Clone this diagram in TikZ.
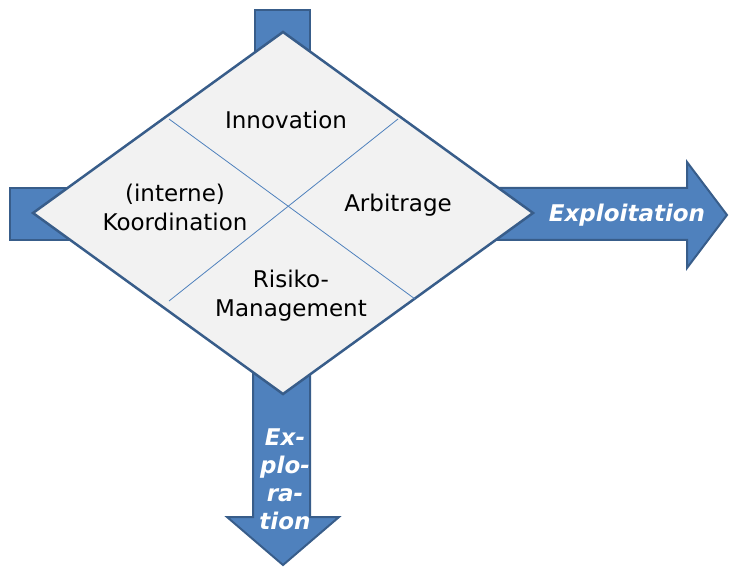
\documentclass[tikz,border=0pt]{standalone}
\usepackage{fontspec}
\setmainfont{DejaVu Sans}
\usetikzlibrary{calc}
\definecolor{arrowblue}{HTML}{4F81BD}
\definecolor{arrowedge}{HTML}{385D8A}
\definecolor{fieldgray}{HTML}{F2F2F2}
\tikzset{
  big arrow/.style = {fill=arrowblue, draw=arrowedge, line width=2pt, line join=miter}
}
\tikzset{
  field/.style = {fill=fieldgray, draw=arrowedge, line width=2.5pt, line join=miter}
}
\tikzset{
  every node/.style = {font = \fontsize{23}{29}\selectfont, align=center}
}
\tikzset{
  arrow label/.style = {text=white, font=\fontsize{23}{28}\selectfont\bfseries\itshape}
}

\begin{document}
\begin{tikzpicture}[x=1pt, y=-1pt]
  \useasboundingbox (0,0) rectangle (731,569);

  % Arrow stubs behind the field
  \draw[big arrow] (10,188) rectangle (150,240);
  \draw[big arrow] (255,10) rectangle (310,120);

  % Exploitation arrow
  \draw[big arrow]
    (420,188) -- (687,188) -- (687,162) -- (727,215)
    -- (687,268) -- (687,240) -- (420,240) -- cycle;

  % Exploration arrow
  \draw[big arrow]
    (253,300) -- (253,517) -- (227,517) -- (283,565)
    -- (339,517) -- (310,517) -- (310,300) -- cycle;

  % Field
  \draw[field] (283,32) -- (533,213) -- (283,394) -- (33,213) -- cycle;
  \draw[arrowblue, line width=0.8pt] (169,119) -- (415,299);
  \draw[arrowblue, line width=0.8pt] (398,119) -- (169,301);

  % Labels
  \node (innov) at (286,120) {Innovation};
  \node (koord) at (175,207) {(interne)\\Koordination};
  \node (arbit) at (398,205) {Arbitrage};
  \node (risiko) at (291,296) {Risiko-\\Management};
  \node[arrow label] (exploit) at (627,215) {Exploitation};
  \node[arrow label] (explor) at (285,479) {Ex-\\plo-\\ra-\\tion};
\end{tikzpicture}
\end{document}
